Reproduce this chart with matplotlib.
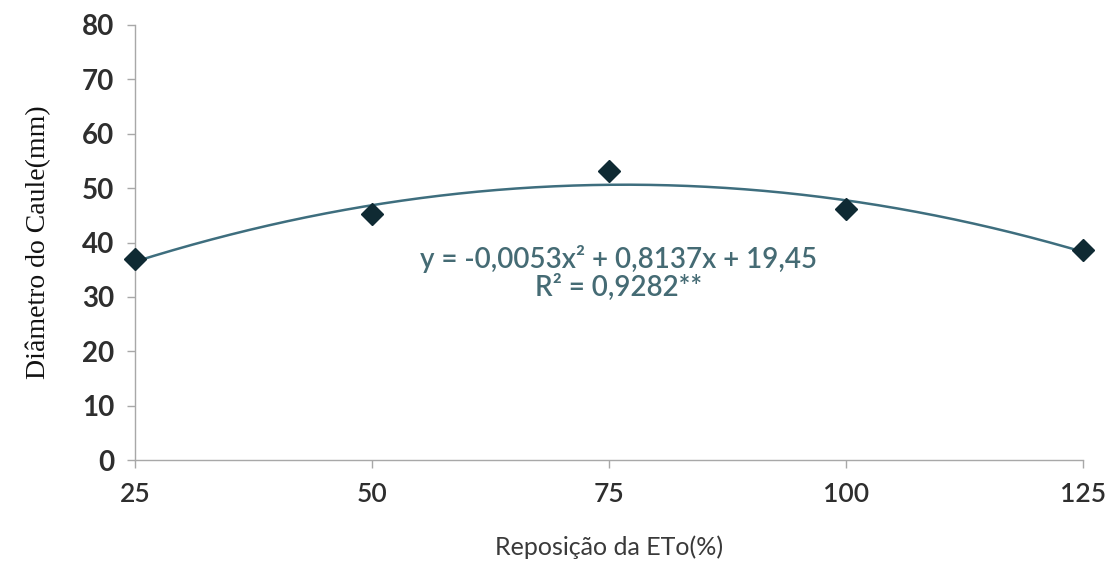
import numpy as np
import matplotlib
matplotlib.use("Agg")
import matplotlib.pyplot as plt

# reposicao da ETo (%) e diametro do caule (mm)
eto = [25, 50, 75, 100, 125]
diametro = [36.9, 45.2, 53.1, 46.1, 38.7]

x_ticks = [25, 50, 75, 100, 125]
y_ticks = [0, 10, 20, 30, 40, 50, 60, 70, 80]

eq_text = "y = -0,0053x\u00b2 + 0,8137x + 19,45"
r2_text = "R\u00b2 = 0,9282**"

fig = plt.figure(figsize=(11.12, 5.66), dpi=100)
ax = fig.add_axes([0.1214, 0.187, 0.8525, 0.769])

# linha de tendencia polinomial (ordem 2), como no Excel
coef = np.polyfit(eto, diametro, 2)
xs = np.linspace(eto[0], eto[-1], 200)
ax.plot(xs, np.polyval(coef, xs), color="#3e6e7e", lw=1.8, zorder=2,
        clip_on=False)
ax.plot(eto, diametro, "D", color="#0f2a33", markersize=11, zorder=3,
        clip_on=False)

ax.text(76, 37, eq_text, ha="center", va="center", fontsize=20,
        color="#456b74", family="Lato", fontweight="semibold")
ax.text(76, 31.8, r2_text, ha="center", va="center", fontsize=20,
        color="#456b74", family="Lato", fontweight="semibold")

ax.set_xlim(25, 125)
ax.set_ylim(0, 80)
ax.set_xticks(x_ticks)
ax.set_yticks(y_ticks)

for s in ["top", "right"]:
    ax.spines[s].set_visible(False)
for s in ["left", "bottom"]:
    ax.spines[s].set_color("#a8a8a8")
    ax.spines[s].set_linewidth(1.0)

ax.tick_params(axis="both", direction="out", length=6, width=1,
               color="#a8a8a8")
ax.tick_params(axis="y", pad=9)
ax.tick_params(axis="x", pad=10)
for lab in ax.get_yticklabels():
    lab.set_fontfamily("Lato")
    lab.set_fontweight("bold")
    lab.set_fontsize(20)
    lab.set_color("#2e2e2e")
for lab in ax.get_xticklabels():
    lab.set_fontfamily("Lato")
    lab.set_fontweight("semibold")
    lab.set_fontsize(19)
    lab.set_color("#2e2e2e")

ax.set_xlabel("Reposi\u00e7\u00e3o da ETo(%)", fontsize=18, color="#3a3a3a",
              family="Lato", labelpad=20)
ax.set_ylabel("Di\u00e2metro do Caule(mm)", fontsize=20, color="#111111",
              family="Liberation Serif", labelpad=22)

fig.savefig("out.png", dpi=100, facecolor="white")
